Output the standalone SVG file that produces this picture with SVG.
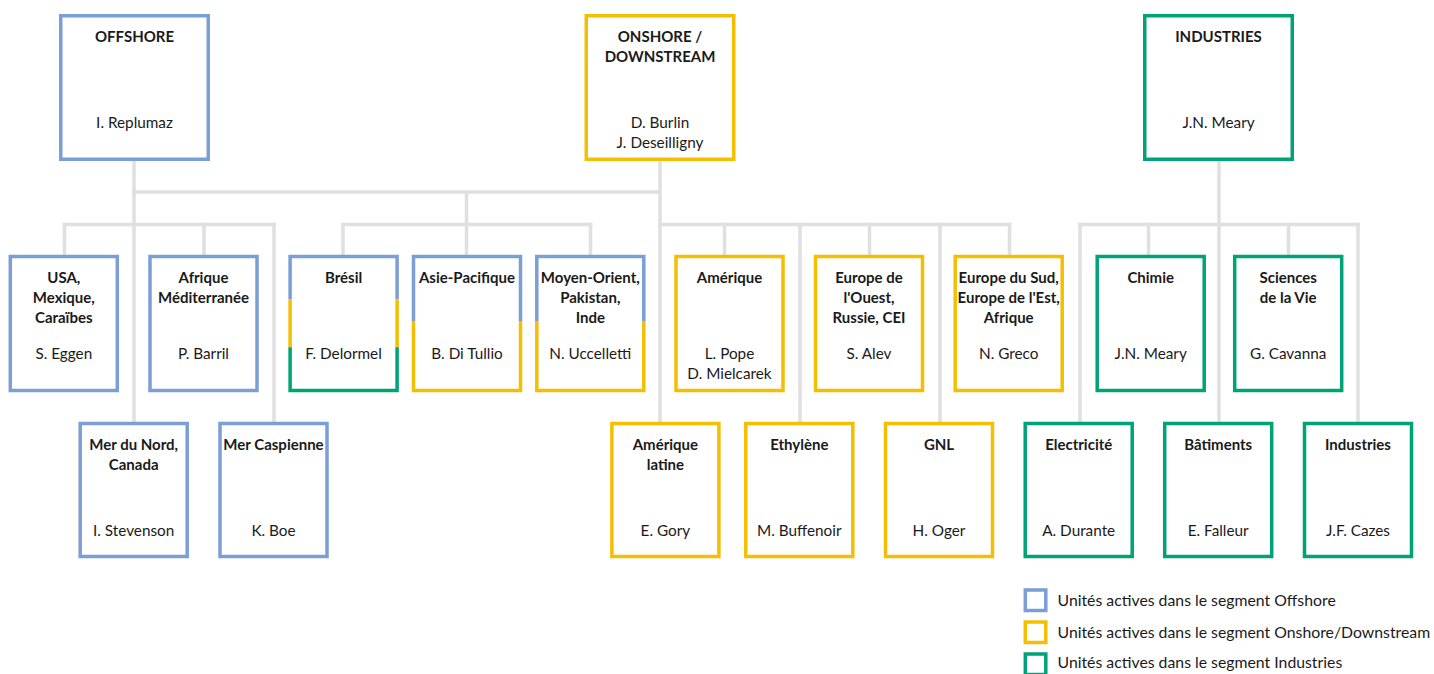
<svg xmlns="http://www.w3.org/2000/svg" width="1434" height="674" viewBox="0 0 1434 674">
<style>
.bx{fill:#fff;stroke-width:3.5}
.b{stroke:#7B9FD4}.y{stroke:#F5BE00}.g{stroke:#00A277}
.seg{fill:none;stroke-width:3.5;stroke-linejoin:miter}
.c{fill:none;stroke:#E0E0E0;stroke-width:3.5;stroke-linecap:square}
text{font-family:Lato,"Open Sans","Liberation Sans",sans-serif;fill:#1a1a1a;text-anchor:middle}
.t{font-size:15px;font-weight:bold}
.n{font-size:15.3px}
.lg{font-size:15.8px;text-anchor:start}
</style>
<rect width="1434" height="674" fill="#fff"/>
<g id="connectors">
<path class="c" d="M134,161V422 M134,192H660 M466.5,192V255 M660,161V422 M1219,161V422"/>
<path class="c" d="M64.5,224.5H274 M343,224.5H590.5 M660,224.5H1009.5 M1080,224.5H1358"/>
<path class="c" d="M64.5,224.5V255 M204,224.5V255 M343,224.5V255 M590.5,224.5V255 M724.5,224.5V255 M869.5,224.5V255 M1009.5,224.5V255 M1148.5,224.5V255 M1288.5,224.5V255"/>
<path class="c" d="M274,224.5V422 M800,224.5V422 M940,224.5V422 M1080,224.5V422 M1358,224.5V422"/>
</g>
<g id="offshore"><rect class="bx b" x="60.75" y="15.75" width="147.5" height="143.5"/><text class="t" x="134.5" y="42">OFFSHORE</text><text class="n" x="134.5" y="128">I. Replumaz</text></g>
<g id="onshore"><rect class="bx y" x="586.25" y="15.75" width="147.5" height="143.5"/><text class="t" x="660" y="42">ONSHORE /</text><text class="t" x="660" y="62">DOWNSTREAM</text><text class="n" x="660" y="128">D. Burlin</text><text class="n" x="660" y="148">J. Deseilligny</text></g>
<g id="industries"><rect class="bx g" x="1144.75" y="15.75" width="147.5" height="143.5"/><text class="t" x="1218.5" y="42">INDUSTRIES</text><text class="n" x="1218.5" y="128">J.N. Meary</text></g>

<g id="usa"><rect class="bx b" x="10.3" y="256.5" width="107" height="134"/><text class="t" x="63.8" y="283">USA,</text><text class="t" x="63.8" y="303">Mexique,</text><text class="t" x="63.8" y="323">Caraïbes</text><text class="n" x="63.8" y="359">S. Eggen</text></g>
<g id="afrique"><rect class="bx b" x="150" y="256.5" width="107" height="134"/><text class="t" x="203.5" y="283">Afrique</text><text class="t" x="203.5" y="303">Méditerranée</text><text class="n" x="203.5" y="359">P. Barril</text></g>
<g id="bresil"><rect x="290.1" y="256.5" width="107" height="134" fill="#fff"/>
<path class="seg b" d="M290.1,299.3V256.5H397.1V299.3"/><path class="seg y" d="M290.1,299.3V347.3M397.1,299.3V347.3"/><path class="seg g" d="M290.1,347.3V390.5H397.1V347.3"/>
<text class="t" x="343.6" y="283">Brésil</text><text class="n" x="343.6" y="359">F. Delormel</text></g>
<g id="asie"><rect x="413.5" y="256.5" width="107" height="134" fill="#fff"/>
<path class="seg b" d="M413.5,321V256.5H520.5V321"/><path class="seg y" d="M413.5,321V390.5H520.5V321"/>
<text class="t" x="467" y="283">Asie-Pacifique</text><text class="n" x="467" y="359">B. Di Tullio</text></g>
<g id="moyen-orient"><rect x="536.8" y="256.5" width="107" height="134" fill="#fff"/>
<path class="seg b" d="M536.8,321V256.5H643.8V321"/><path class="seg y" d="M536.8,321V390.5H643.8V321"/>
<text class="t" x="590.3" y="283">Moyen-Orient,</text><text class="t" x="590.3" y="303">Pakistan,</text><text class="t" x="590.3" y="323">Inde</text><text class="n" x="590.3" y="359">N. Uccelletti</text></g>
<g id="amerique"><rect class="bx y" x="676" y="256.5" width="107" height="134"/><text class="t" x="729.5" y="283">Amérique</text><text class="n" x="729.5" y="359">L. Pope</text><text class="n" x="729.5" y="379">D. Mielcarek</text></g>
<g id="europe-ouest"><rect class="bx y" x="815.5" y="256.5" width="107" height="134"/><text class="t" x="869" y="283">Europe de</text><text class="t" x="869" y="303">l'Ouest,</text><text class="t" x="869" y="323">Russie, CEI</text><text class="n" x="869" y="359">S. Alev</text></g>
<g id="europe-sud"><rect class="bx y" x="955.2" y="256.5" width="107" height="134"/><text class="t" x="1008.7" y="283">Europe du Sud,</text><text class="t" x="1008.7" y="303">Europe de l'Est,</text><text class="t" x="1008.7" y="323">Afrique</text><text class="n" x="1008.7" y="359">N. Greco</text></g>
<g id="chimie"><rect class="bx g" x="1097.2" y="256.5" width="107" height="134"/><text class="t" x="1150.7" y="283">Chimie</text><text class="n" x="1150.7" y="359">J.N. Meary</text></g>
<g id="sciences"><rect class="bx g" x="1234.7" y="256.5" width="107" height="134"/><text class="t" x="1288.2" y="283">Sciences</text><text class="t" x="1288.2" y="303">de la Vie</text><text class="n" x="1288.2" y="359">G. Cavanna</text></g>

<g id="mer-du-nord"><rect class="bx b" x="80.2" y="423.5" width="107" height="133"/><text class="t" x="133.7" y="450">Mer du Nord,</text><text class="t" x="133.7" y="470">Canada</text><text class="n" x="133.7" y="536">I. Stevenson</text></g>
<g id="mer-caspienne"><rect class="bx b" x="220" y="423.5" width="107" height="133"/><text class="t" x="273.5" y="450">Mer Caspienne</text><text class="n" x="273.5" y="536">K. Boe</text></g>
<g id="amerique-latine"><rect class="bx y" x="611.9" y="423.5" width="107" height="133"/><text class="t" x="665.4" y="450">Amérique</text><text class="t" x="665.4" y="470">latine</text><text class="n" x="665.4" y="536">E. Gory</text></g>
<g id="ethylene"><rect class="bx y" x="745.8" y="423.5" width="107" height="133"/><text class="t" x="799.3" y="450">Ethylène</text><text class="n" x="799.3" y="536">M. Buffenoir</text></g>
<g id="gnl"><rect class="bx y" x="885.5" y="423.5" width="107" height="133"/><text class="t" x="939" y="450">GNL</text><text class="n" x="939" y="536">H. Oger</text></g>
<g id="electricite"><rect class="bx g" x="1025.2" y="423.5" width="107" height="133"/><text class="t" x="1078.7" y="450">Electricité</text><text class="n" x="1078.7" y="536">A. Durante</text></g>
<g id="batiments"><rect class="bx g" x="1164.7" y="423.5" width="107" height="133"/><text class="t" x="1218.2" y="450">Bâtiments</text><text class="n" x="1218.2" y="536">E. Falleur</text></g>
<g id="industries-unit"><rect class="bx g" x="1304.5" y="423.5" width="107" height="133"/><text class="t" x="1358" y="450">Industries</text><text class="n" x="1358" y="536">J.F. Cazes</text></g>

<g id="legend">
<rect class="bx b" x="1025.3" y="590" width="20.5" height="20.5"/><text class="lg" x="1057.5" y="606">Unités actives dans le segment Offshore</text>
<rect class="bx y" x="1025.3" y="622" width="20.5" height="20.5"/><text class="lg" x="1057.5" y="637.5">Unités actives dans le segment Onshore/Downstream</text>
<rect class="bx g" x="1025.3" y="654" width="20.5" height="20.5"/><text class="lg" x="1057.5" y="668">Unités actives dans le segment Industries</text>
</g>
</svg>
